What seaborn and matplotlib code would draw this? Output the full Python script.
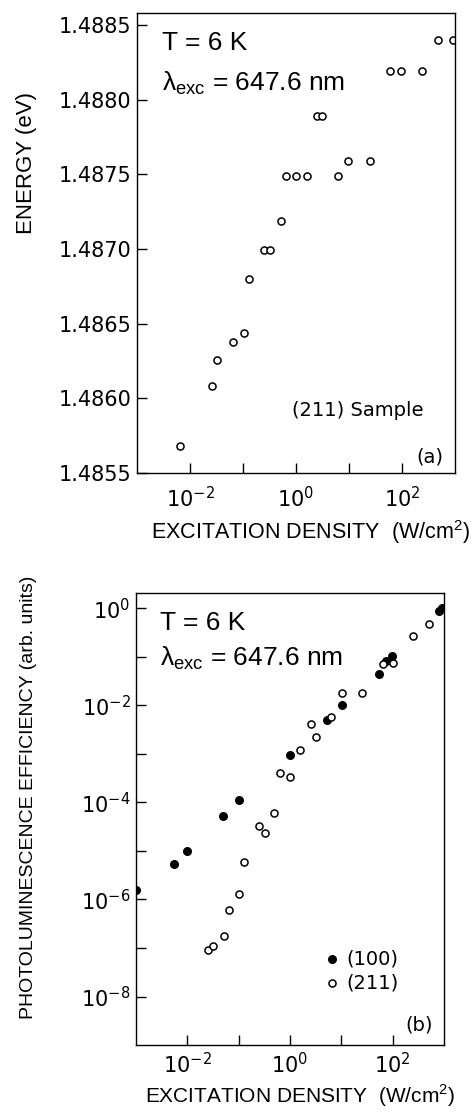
import matplotlib
matplotlib.use("Agg")
import matplotlib.pyplot as plt
import seaborn as sns

# ---------------- data ----------------
# (a) peak energy vs excitation density, (211) sample
energy_density = [0.0066, 0.026, 0.033, 0.066, 0.104, 0.13, 0.25, 0.32, 0.51,
                  0.64, 1.0, 1.58, 2.5, 3.05, 6.3, 9.7, 25, 59, 96, 234, 484, 906]
energy_ev = [1.48568, 1.48608, 1.48626, 1.48638, 1.48644, 1.48680, 1.48699,
             1.48699, 1.48719, 1.48749, 1.48749, 1.48749, 1.48789, 1.48789,
             1.48749, 1.48759, 1.48759, 1.48819, 1.48819, 1.48819, 1.48840,
             1.48840]

# (b) PL efficiency vs excitation density
s100_density = [0.001, 0.0054, 0.01, 0.05, 0.10, 0.99, 5.3, 10.2, 53, 75, 99,
                805, 920]
s100_eff = [1.6e-6, 5.3e-6, 9.8e-6, 5.3e-5, 1.1e-4, 9.6e-4, 5.0e-3, 1.0e-2,
            4.5e-2, 8.0e-2, 0.105, 0.87, 0.99]

s211_density = [0.025, 0.032, 0.052, 0.064, 0.103, 0.127, 0.25, 0.32, 0.49,
                0.64, 1.0, 1.57, 2.54, 3.2, 6.4, 10.4, 25.8, 64, 100, 254, 514]
s211_eff = [9e-8, 1.1e-7, 1.8e-7, 6.2e-7, 1.3e-6, 6e-6, 3.3e-5, 2.3e-5, 6e-5,
            4.1e-4, 3.3e-4, 1.2e-3, 4.1e-3, 2.2e-3, 5.7e-3, 1.8e-2, 1.8e-2,
            7.0e-2, 7.3e-2, 0.27, 0.47]

energy_ticks = [1.4855, 1.4860, 1.4865, 1.4870, 1.4875, 1.4880, 1.4885]
energy_labels = ["1.4855", "1.4860", "1.4865", "1.4870", "1.4875", "1.4880", "1.4885"]
x_ticks = [1e-2, 1e-1, 1e0, 1e1, 1e2]
x_labels = [r"$\mathdefault{10^{-2}}$", "", r"$\mathdefault{10^{0}}$", "",
            r"$\mathdefault{10^{2}}$"]
eff_ticks = [1e-8, 1e-7, 1e-6, 1e-5, 1e-4, 1e-3, 1e-2, 1e-1, 1e0]
eff_labels = [r"$\mathdefault{10^{-8}}$", "", r"$\mathdefault{10^{-6}}$", "",
              r"$\mathdefault{10^{-4}}$", "", r"$\mathdefault{10^{-2}}$", "",
              r"$\mathdefault{10^{0}}$"]

# ---------------- style ----------------
sns.set_style("ticks")
plt.rcParams["font.family"] = ["DejaVu Sans"]
plt.rcParams["axes.linewidth"] = 1.0
plt.rcParams["text.color"] = "black"
plt.rcParams["axes.labelcolor"] = "black"
plt.rcParams["xtick.color"] = "black"
plt.rcParams["ytick.color"] = "black"

LABEL_FONT = ["Liberation Sans", "DejaVu Sans"]
LAMBDA_TEXT = r"λ$_{\mathdefault{exc}}$ = 647.6 nm"

fig = plt.figure(figsize=(4.77, 11.14), dpi=100)
ax1 = fig.add_axes([0.2872, 0.5754, 0.6667, 0.4129])
ax2 = fig.add_axes([0.2851, 0.0619, 0.6457, 0.4057])


def style_axis(ax, xpad):
    for sp in ax.spines.values():
        sp.set_visible(True)
        sp.set_color("black")
        sp.set_linewidth(1.0)
    ax.tick_params(direction="in", length=7, width=1, colors="black",
                   labelcolor="black", labelsize=15, top=False, right=False)
    ax.tick_params(axis="x", pad=xpad)
    ax.tick_params(axis="y", pad=4)


# ---------------- (a) ----------------
sns.scatterplot(x=energy_density, y=energy_ev, ax=ax1, marker="o", s=26,
                facecolor="white", edgecolor="black", linewidth=1.1)
ax1.set_xscale("log")
ax1.set_xlim(1e-3, 1e3)
ax1.set_ylim(1.4855, 1.48858)
ax1.minorticks_off()
ax1.set_xticks(x_ticks, labels=x_labels)
ax1.set_yticks(energy_ticks, labels=energy_labels)
style_axis(ax1, 9)
ax1.set_xlabel(r"EXCITATION DENSITY  (W/cm$^{\mathdefault{2}}$)", fontsize=15.5,
               family=LABEL_FONT)
ax1.xaxis.set_label_coords(0.547, -0.097)
ax1.set_ylabel("ENERGY (eV)", fontsize=16, family=LABEL_FONT)
ax1.yaxis.set_label_coords(-0.314, 0.674)

ax1.text(0.079, 0.935, "T = 6 K", transform=ax1.transAxes, fontsize=19,
         va="center", ha="left", family=LABEL_FONT)
ax1.text(0.079, 0.848, LAMBDA_TEXT, transform=ax1.transAxes, fontsize=19,
         va="center", ha="left", family=LABEL_FONT)
ax1.text(0.487, 0.135, "(211) Sample", transform=ax1.transAxes, fontsize=14,
         va="center", ha="left")
ax1.text(0.962, 0.035, "(a)", transform=ax1.transAxes, fontsize=14,
         va="center", ha="right")

# ---------------- (b) ----------------
sns.scatterplot(x=s100_density, y=s100_eff, ax=ax2, marker="o", s=32,
                color="black", edgecolor="black", linewidth=0.8, label="(100)")
sns.scatterplot(x=s211_density, y=s211_eff, ax=ax2, marker="o", s=26,
                facecolor="white", edgecolor="black", linewidth=1.1,
                label="(211)")
ax2.set_xscale("log")
ax2.set_yscale("log")
ax2.set_xlim(1e-3, 1e3)
ax2.set_ylim(1e-9, 2.05)
ax2.set_xticks(x_ticks, labels=x_labels)
ax2.set_yticks(eff_ticks, labels=eff_labels)
ax2.minorticks_off()
style_axis(ax2, 5)
ax2.set_xlabel(r"EXCITATION DENSITY  (W/cm$^{\mathdefault{2}}$)", fontsize=15,
               family=LABEL_FONT)
ax2.xaxis.set_label_coords(0.532, -0.082)
ax2.set_ylabel("PHOTOLUMINESCENCE EFFICIENCY (arb. units)", fontsize=14,
               family=["Liberation Sans Narrow", "Liberation Sans", "DejaVu Sans"])
ax2.yaxis.set_label_coords(-0.321, 0.549)

ax2.text(0.078, 0.934, "T = 6 K", transform=ax2.transAxes, fontsize=19,
         va="center", ha="left", family=LABEL_FONT)
ax2.text(0.078, 0.855, LAMBDA_TEXT, transform=ax2.transAxes, fontsize=19,
         va="center", ha="left", family=LABEL_FONT)
ax2.text(0.964, 0.044, "(b)", transform=ax2.transAxes, fontsize=14,
         va="center", ha="right")

leg = ax2.legend(loc="center left", bbox_to_anchor=(0.6, 0.164), frameon=False,
                 fontsize=14, handletextpad=0.1, labelspacing=0.25,
                 borderpad=0, handlelength=1.2, borderaxespad=0)

fig.savefig("out.png", dpi=100)
